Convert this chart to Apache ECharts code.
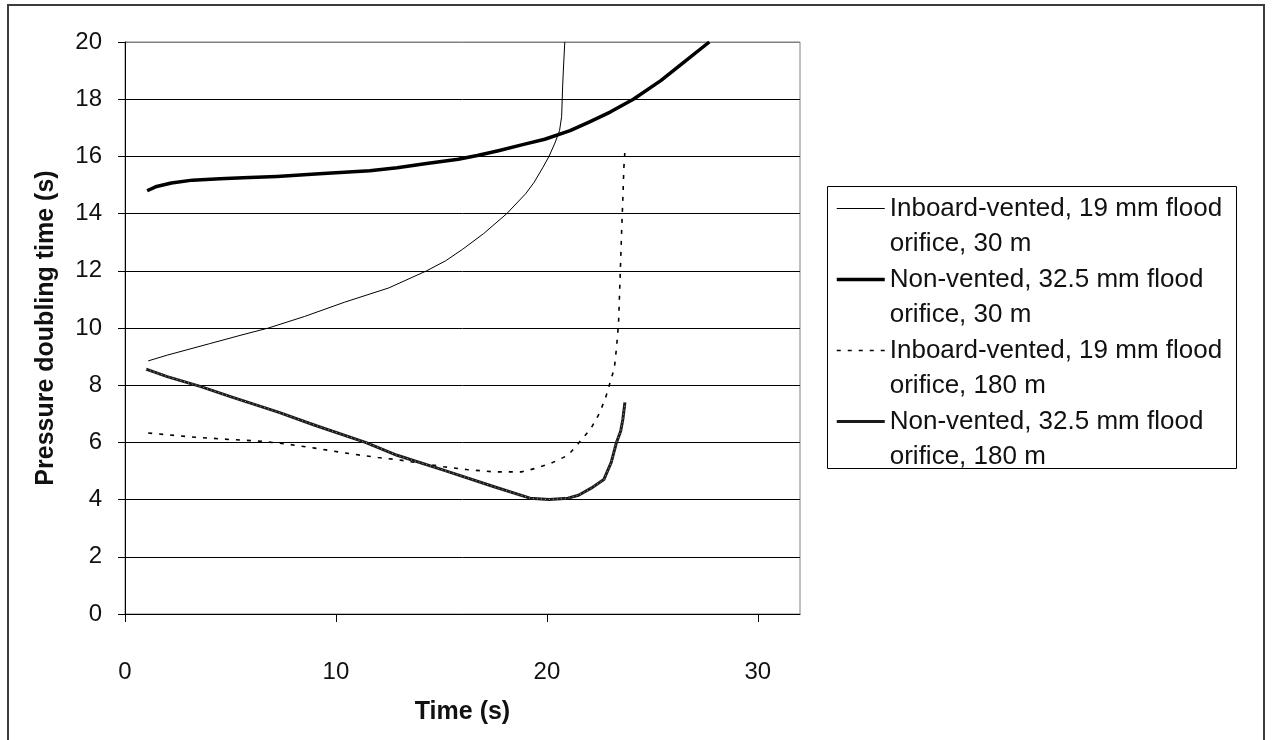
<!DOCTYPE html>
<html>
<head>
<meta charset="utf-8">
<title>Pressure doubling time</title>
<script src="https://cdn.jsdelivr.net/npm/echarts@6/dist/echarts.min.js"></script>
<style>
  html, body { margin: 0; padding: 0; background: #fff; }
  #chart { width: 1273px; height: 740px; }
</style>
</head>
<body>
<div id="chart"></div>
<script>
// Series names (two lines each, as in the legend)
const seriesNames = [
  ['Inboard-vented, 19 mm flood', 'orifice, 30 m'],
  ['Non-vented, 32.5 mm flood', 'orifice, 30 m'],
  ['Inboard-vented, 19 mm flood', 'orifice, 180 m'],
  ['Non-vented, 32.5 mm flood', 'orifice, 180 m']
];

// Inboard-vented, 19 mm, 30 m
const timeA = [1.1, 2, 4, 5.5, 6.8, 8.5, 10.4, 12.5, 14.3, 15.2, 16, 17, 18.1, 19, 19.4, 19.8, 20.1, 20.4, 20.6, 20.7, 20.75, 20.8, 20.85];
const doubA = [8.85, 9.05, 9.45, 9.75, 10, 10.4, 10.9, 11.4, 12, 12.35, 12.75, 13.3, 14, 14.7, 15.1, 15.6, 16, 16.5, 16.9, 17.4, 18.5, 19.3, 20];

// Non-vented, 32.5 mm, 30 m
const timeB = [1.05, 1.5, 2.2, 3.2, 4.5, 5.6, 7.2, 9.4, 11.6, 12.9, 14.3, 15.8, 16.7, 17.7, 18.9, 19.9, 21.1, 22, 23, 24.1, 25.4, 26.5, 27.7];
const doubB = [14.8, 14.95, 15.07, 15.17, 15.22, 15.25, 15.3, 15.4, 15.5, 15.6, 15.75, 15.9, 16.03, 16.2, 16.42, 16.6, 16.9, 17.2, 17.55, 18, 18.65, 19.3, 20];

// Inboard-vented, 19 mm, 180 m
const timeC = [1.1, 3, 5, 6.3, 7.7, 9, 10.7, 12, 12.9, 14, 15.1, 16.2, 17.5, 18.8, 19.5, 20.2, 21, 21.5, 22.1, 22.5, 22.8, 23.0, 23.2, 23.3, 23.4, 23.45, 23.5, 23.55, 23.6, 23.65, 23.7];
const doubC = [6.33, 6.2, 6.1, 6.05, 5.94, 5.8, 5.6, 5.47, 5.4, 5.27, 5.15, 5.05, 4.97, 4.97, 5.1, 5.27, 5.55, 5.97, 6.5, 7.03, 7.6, 8.1, 8.6, 9.3, 10.2, 11.3, 12.4, 13.5, 14.5, 15.6, 16.2];

// Non-vented, 32.5 mm, 180 m
const timeD = [1.0, 2, 3.6, 5, 7.3, 9, 11.4, 12.9, 15.1, 17.5, 19.2, 20.1, 21, 21.5, 22.1, 22.7, 23.05, 23.3, 23.5, 23.6, 23.7];
const doubD = [8.56, 8.3, 7.95, 7.6, 7.05, 6.6, 6.0, 5.55, 5.03, 4.45, 4.05, 4.0, 4.05, 4.15, 4.4, 4.7, 5.3, 6.0, 6.4, 6.8, 7.4];

// Axis ticks
const xTicks = [0, 10, 20, 30];
const yTicks = [0, 2, 4, 6, 8, 10, 12, 14, 16, 18, 20];

const pairs = (xs, ys) => xs.map((x, i) => [x, ys[i]]);
const FONT = 'Liberation Sans, Arial, sans-serif';
const legendLabel = n => n.join('');

const chart = echarts.init(document.getElementById('chart'), null, { renderer: 'canvas' });

const option = {
  animation: false,
  backgroundColor: '#fff',
  textStyle: { fontFamily: FONT },
  graphic: [
    { // outer chart frame
      type: 'rect', z: 0, silent: true,
      shape: { x: 8, y: 5, width: 1256, height: 760 },
      style: { fill: 'none', stroke: '#3c3c3c', lineWidth: 2 }
    },
    { // legend frame
      type: 'rect', z: 1, silent: true,
      shape: { x: 827.5, y: 186.5, width: 409, height: 282 },
      style: { fill: '#fff', stroke: '#000', lineWidth: 1 }
    }
  ],
  grid: {
    left: 125, top: 42, right: 473, bottom: 126,
    show: true, borderColor: '#808080', borderWidth: 1, backgroundColor: 'transparent'
  },
  legend: {
    orient: 'vertical', left: 835, top: 156, padding: 0,
    itemWidth: 48, itemHeight: 10, itemGap: -34,
    selectedMode: false, z: 5,
    data: seriesNames.map(legendLabel),
    formatter: name => {
      const n = seriesNames.find(s => legendLabel(s) === name);
      return ' \n' + n[0] + '\n' + n[1];
    },
    textStyle: { fontSize: 26, lineHeight: 35, color: '#111', fontFamily: FONT },
    itemStyle: { opacity: 0 },
    lineStyle: { width: 'inherit' }
  },
  xAxis: {
    type: 'value', min: 0, max: 32, interval: 10,
    name: 'Time (s)', nameLocation: 'middle', nameGap: 86,
    nameTextStyle: { fontSize: 25, fontWeight: 'bold', color: '#111', fontFamily: FONT },
    axisLine: { show: true, onZero: false, lineStyle: { color: '#000', width: 1 } },
    axisTick: { show: true, inside: false, length: 8, customValues: xTicks, lineStyle: { color: '#000' } },
    axisLabel: { customValues: xTicks, margin: 46, fontSize: 24, color: '#111', fontFamily: FONT },
    splitLine: { show: false }
  },
  yAxis: {
    type: 'value', min: 0, max: 20, interval: 2,
    name: 'Pressure doubling time (s)', nameLocation: 'middle', nameGap: 66,
    nameTextStyle: { fontSize: 25, fontWeight: 'bold', color: '#111', fontFamily: FONT },
    axisLine: { show: true, onZero: false, lineStyle: { color: '#000', width: 1 } },
    axisTick: { show: true, inside: false, length: 7, customValues: yTicks, lineStyle: { color: '#000' } },
    axisLabel: { customValues: yTicks, margin: 23, fontSize: 24, color: '#111', fontFamily: FONT },
    splitLine: {
      show: true,
      lineStyle: { color: ['#000', '#000', '#000', '#000', '#000', '#000', '#000', '#000', '#000', '#000', '#808080'], width: 1 }
    }
  },
  series: [
    {
      name: legendLabel(seriesNames[0]), type: 'line', symbol: 'none',
      data: pairs(timeA, doubA),
      lineStyle: { color: '#000', width: 1 }, itemStyle: { color: '#000' }, z: 3
    },
    {
      name: legendLabel(seriesNames[1]), type: 'line', symbol: 'none',
      data: pairs(timeB, doubB),
      lineStyle: { color: '#000', width: 3.5, join: 'round' }, itemStyle: { color: '#000' }, z: 3
    },
    {
      name: legendLabel(seriesNames[2]), type: 'line', symbol: 'none',
      data: pairs(timeC, doubC),
      lineStyle: { color: '#000', width: 1.6, type: [4, 7] }, itemStyle: { color: '#000' }, z: 3
    },
    {
      name: legendLabel(seriesNames[3]), type: 'line', symbol: 'none',
      data: pairs(timeD, doubD),
      lineStyle: { color: '#1a1a1a', width: 3, join: 'round' }, itemStyle: { color: '#1a1a1a' }, z: 3
    },
    { // light texture running along the 180 m non-vented curve
      name: 'texture', type: 'line', symbol: 'none', silent: true,
      data: pairs(timeD, doubD),
      lineStyle: { color: '#fff', width: 1, type: [1, 3], opacity: 0.6 }, z: 4
    }
  ]
};

chart.setOption(option);
</script>
</body>
</html>
